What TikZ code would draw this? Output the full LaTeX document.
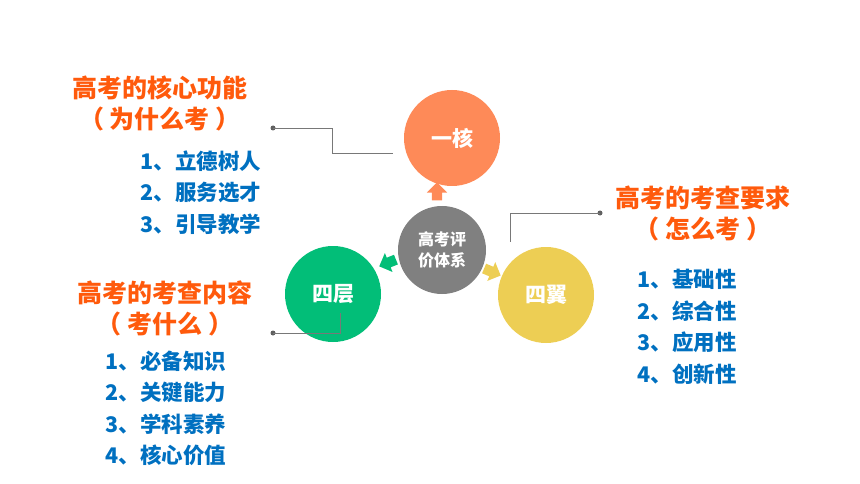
\documentclass[tikz,border=0pt]{standalone}
\usepackage{fontspec}
\setmainfont{Noto Sans CJK SC}
\usepackage{xcolor}
\definecolor{hecol}{RGB}{254,138,88}
\definecolor{cengcol}{RGB}{2,190,120}
\definecolor{yicol}{RGB}{237,206,84}
\definecolor{midcol}{RGB}{128,128,128}
\definecolor{titcol}{RGB}{255,90,12}
\definecolor{itemcol}{RGB}{0,112,192}
\definecolor{linecol}{RGB}{120,120,120}
\usepackage{tikz}
\usetikzlibrary{positioning, shapes.arrows}
\tikzstyle{ball} = [
    circle, text centered,
    minimum size=96pt,
    inner sep=0pt,
    text=white,
    font=\fontsize{21}{24}\selectfont\bfseries,
]
\tikzstyle{blockarrow} = [
    single arrow, draw=none,
    inner sep=5pt,
    minimum height=18pt,
    single arrow head extend=5pt,
]
\tikzstyle{title} = [
    text=titcol, align=center,
    font=\fontsize{25}{31}\selectfont\bfseries,
]
\tikzstyle{items} = [
    text=itemcol, align=left, anchor=north west,
    font=\fontsize{21.5}{31.5}\selectfont\bfseries,
]
\tikzstyle{dotn} = [circle, fill=linecol!80!black, inner sep=0pt, minimum size=5pt]
\tikzstyle{link} = [draw=linecol, line width=0.9pt]

\begin{document}
\begin{tikzpicture}[x=1pt,y=-1pt]
    \useasboundingbox (0,0) rectangle (860,484);
    % circles
    \node (he) at (452,138) [ball, fill=hecol] {一核};
    \node (mid) at (442,250) [ball, fill=midcol, minimum size=88pt,
        font=\fontsize{16}{21}\selectfont\bfseries, align=center] {高考评\\价体系};
    \node (ceng) at (333,294) [ball, fill=cengcol] {四层};
    \node (yi) at (546,295) [ball, fill=yicol] {四翼};

    % arrows
    \node (arrhe) at (437,194) [blockarrow, fill=hecol, rotate=90] {};
    \node (arrceng) at (390,262) [blockarrow, fill=cengcol, rotate=202] {};
    \node (arryi) at (490,271) [blockarrow, fill=yicol, rotate=-23] {};

    % texts
    \node (t1) at (160,103) [title] {高考的核心功能\\（ 为什么考 ）};
    \node (l1) at (137,147) [items] {1、立德树人\\2、服务选才\\3、引导教学};
    \node (t2) at (165,308) [title] {高考的考查内容\\（ 考什么 ）};
    \node (l2) at (102,347) [items] {1、必备知识\\2、关键能力\\3、学科素养\\4、核心价值};
    \node (t3) at (703,213) [title] {高考的考查要求\\（ 怎么考 ）};
    \node (l3) at (634,266) [items] {1、基础性\\2、综合性\\3、应用性\\4、创新性};

    % connectors
    \node (d1) at (273,128) [dotn] {};
    \coordinate (b1) at (332,153);
    \coordinate (e1) at (393,153);
    \draw [link] (d1.center) -| (b1) -- (e1);
    \node (d2) at (273,333) [dotn] {};
    \coordinate (e2) at (340,313);
    \draw [link] (d2.center) -| (e2);
    \node (d3) at (600,213) [dotn] {};
    \coordinate (e3) at (510,242);
    \draw [link] (d3.center) -| (e3);
\end{tikzpicture}
\end{document}
